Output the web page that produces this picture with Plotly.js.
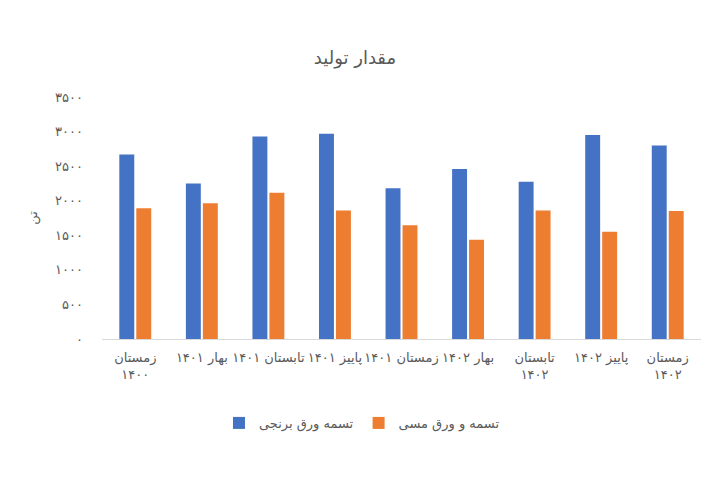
<!DOCTYPE html>
<html>
<head>
<meta charset="utf-8">
<script src="https://cdn.plot.ly/plotly-3.0.1.min.js"></script>
<style>html,body{margin:0;padding:0;background:#fff;}#chart{width:720px;height:480px;}</style>
</head>
<body>
<div id="chart"></div>
<script>
var categories = ["زمستان<br>۱۴۰۰", "بهار ۱۴۰۱", "تابستان ۱۴۰۱", "پاییز ۱۴۰۱", "زمستان ۱۴۰۱", "بهار ۱۴۰۲", "تابستان<br>۱۴۰۲", "پاییز ۱۴۰۲", "زمستان<br>۱۴۰۲"];
var brassName = "تسمه ورق برنجی";
var copperName = "تسمه و ورق مسی";
var brassValues = [2670, 2250, 2930, 2970, 2180, 2460, 2275, 2950, 2800];
var copperValues = [1890, 1965, 2115, 1860, 1645, 1435, 1860, 1550, 1850];
var yTickVals = [0, 500, 1000, 1500, 2000, 2500, 3000, 3500];
var yTickText = ["۰", "۵۰۰", "۱۰۰۰", "۱۵۰۰", "۲۰۰۰", "۲۵۰۰", "۳۰۰۰", "۳۵۰۰"];
var chartTitle = "مقدار تولید";
var yTitle = "تن";

var font = "DejaVu Sans, sans-serif";
var traces = [
  {type: "bar", name: brassName, x: categories, y: brassValues, marker: {color: "#4472C4"}},
  {type: "bar", name: copperName, x: categories, y: copperValues, marker: {color: "#ED7D31"}}
];
var layout = {
  width: 720, height: 480,
  margin: {l: 102, r: 19, t: 97, b: 141},
  paper_bgcolor: "#ffffff", plot_bgcolor: "#ffffff",
  font: {family: font, color: "#595959", size: 12},
  title: {text: chartTitle, x: 0.493, xanchor: "center", y: 0.88, yanchor: "middle", font: {family: font, size: 18, color: "#595959"}},
  barmode: "group", bargap: 0.49, bargroupgap: 0.12,
  showlegend: true,
  legend: {orientation: "h", x: 0.434, xanchor: "center", y: -0.347, yanchor: "middle", font: {family: font, size: 13, color: "#595959"}, itemwidth: 30, traceorder: "normal"},
  xaxis: {showline: true, linecolor: "#d9d9d9", linewidth: 1, ticks: "", tickfont: {family: font, size: 13, color: "#595959"}, ticklabelstandoff: 6, showgrid: false, zeroline: false, automargin: false},
  yaxis: {range: [0, 3500], tickvals: yTickVals, ticktext: yTickText, showgrid: false, zeroline: false, showline: false, tickfont: {family: font, size: 13, color: "#595959"}, ticklabelstandoff: 18, title: {text: yTitle, standoff: 14, font: {family: font, size: 13, color: "#595959"}}, automargin: false}
};
Plotly.newPlot("chart", traces, layout, {displayModeBar: false, staticPlot: true});
</script>
</body>
</html>
